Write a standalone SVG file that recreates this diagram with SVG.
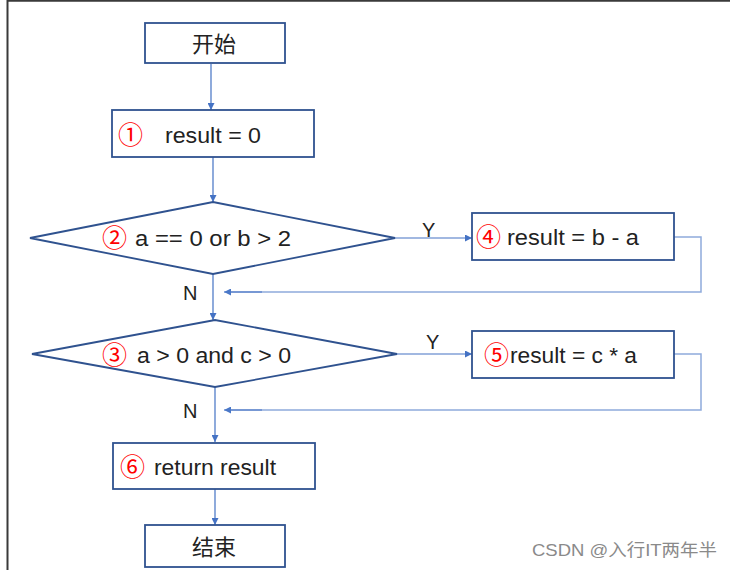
<svg xmlns="http://www.w3.org/2000/svg" width="733" height="570" viewBox="0 0 733 570">
<defs>
<marker id="ah" viewBox="0 0 10 10" refX="10" refY="5" markerWidth="7" markerHeight="7" markerUnits="userSpaceOnUse" orient="auto"><path d="M0,0 L10,5 L0,10 z" fill="#4472C4"/></marker>
<marker id="ah2" viewBox="0 0 10 10" refX="10" refY="5" markerWidth="7" markerHeight="7" markerUnits="userSpaceOnUse" orient="auto"><path d="M0,0 L10,5 L0,10 z" fill="#4a78c8"/></marker>
</defs>
<style>
.box{fill:#fff;stroke:#2F528F;stroke-width:1.8}
.t{font-family:"Liberation Sans","Noto Sans CJK SC",sans-serif;font-size:22px;fill:#222}
.cn{font-family:"Noto Sans CJK SC",sans-serif;font-size:22px;fill:#222}
.num{font-family:"Noto Sans CJK SC","DejaVu Sans",sans-serif;font-size:25px;fill:#ff0000}
.c{fill:none;stroke:#4472C4;stroke-width:1.2}
.loop{fill:none;stroke:#8FAADC;stroke-width:1.5}
.lbl{font-family:"Liberation Sans",sans-serif;font-size:20px;fill:#222}
</style>
<rect x="0" y="0" width="733" height="570" fill="#fff"/>
<path d="M7.5,570 V0.8 H730" fill="none" stroke="#3a3a3a" stroke-width="2"/>
<g id="connectors">
<line class="c" x1="211" y1="64" x2="211" y2="110" marker-end="url(#ah)"/>
<line class="c" x1="213" y1="157" x2="213" y2="202" marker-end="url(#ah)"/>
<line class="c" x1="395" y1="238" x2="472" y2="238" marker-end="url(#ah)"/>
<polyline class="loop" points="674,237 701,237 701,292 226,292"/>
<line class="c" x1="262" y1="292" x2="224" y2="292" marker-end="url(#ah2)"/>
<line class="c" x1="213" y1="274" x2="213" y2="320" marker-end="url(#ah)"/>
<line class="c" x1="397" y1="354" x2="472" y2="354" marker-end="url(#ah)"/>
<polyline class="loop" points="674,354 701,354 701,410 226,410"/>
<line class="c" x1="262" y1="410" x2="224" y2="410" marker-end="url(#ah2)"/>
<line class="c" x1="215" y1="387" x2="215" y2="442" marker-end="url(#ah)"/>
<line class="c" x1="215" y1="489" x2="215" y2="525" marker-end="url(#ah)"/>
<text class="lbl" x="422" y="237">Y</text>
<text class="lbl" x="426" y="349">Y</text>
<text class="lbl" x="183" y="300">N</text>
<text class="lbl" x="183" y="418">N</text>
</g>
<g id="start">
<rect class="box" x="145" y="23" width="140" height="40"/>
<text class="cn" x="214" y="52" text-anchor="middle">开始</text>
</g>
<g id="n1">
<rect class="box" x="112" y="110" width="202" height="47"/>
<text class="num" x="118" y="144">①</text>
<text class="t" x="165" y="143" textLength="96" lengthAdjust="spacingAndGlyphs">result = 0</text>
</g>
<g id="n2">
<polygon class="box" points="30,238 213,202 395,238 213,274"/>
<text class="num" x="102" y="247">②</text>
<text class="t" x="135" y="246" textLength="156" lengthAdjust="spacingAndGlyphs">a == 0 or b &gt; 2</text>
</g>
<g id="n4">
<rect class="box" x="472" y="213" width="202" height="47"/>
<text class="num" x="476" y="246">④</text>
<text class="t" x="507" y="245" textLength="132" lengthAdjust="spacingAndGlyphs">result = b - a</text>
</g>
<g id="n3">
<polygon class="box" points="32,354 215,320 397,354 215,387"/>
<text class="num" x="102" y="364">③</text>
<text class="t" x="137" y="363" textLength="154" lengthAdjust="spacingAndGlyphs">a &gt; 0 and c &gt; 0</text>
</g>
<g id="n5">
<rect class="box" x="472" y="331" width="202" height="47"/>
<text class="num" x="484" y="364">⑤</text>
<text class="t" x="510" y="363" textLength="127" lengthAdjust="spacingAndGlyphs">result = c * a</text>
</g>
<g id="n6">
<rect class="box" x="113" y="443" width="202" height="46"/>
<text class="num" x="120" y="476">⑥</text>
<text class="t" x="154" y="475" textLength="122" lengthAdjust="spacingAndGlyphs">return result</text>
</g>
<g id="end">
<rect class="box" x="145" y="525" width="140" height="42"/>
<text class="cn" x="214" y="555" text-anchor="middle">结束</text>
</g>
<text x="532" y="556" font-family="Liberation Sans,'Noto Sans CJK SC',sans-serif" font-size="17" fill="#8a8a8a" textLength="185" lengthAdjust="spacingAndGlyphs">CSDN @入行IT两年半</text>
</svg>
